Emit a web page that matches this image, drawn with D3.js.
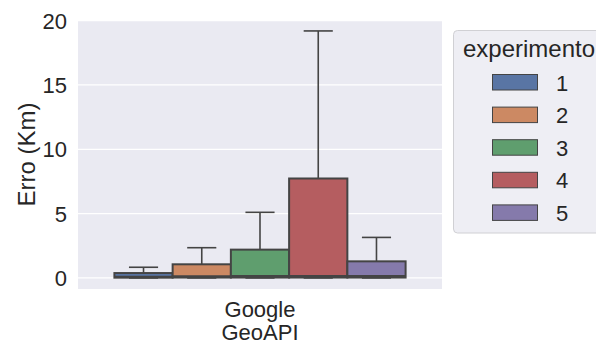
<!DOCTYPE html>
<html><head><meta charset="utf-8">
<script src="https://cdn.jsdelivr.net/npm/d3@7"></script>
<style>body{margin:0;background:#fff}svg{display:block}text{font-family:"Liberation Sans",Arial,sans-serif;fill:#262626}</style>
</head><body>
<svg id="c" width="596" height="345"></svg>
<script>
const categories = ["Google\nGeoAPI"];
const experiments = ["1","2","3","4","5"];
const colors = ["#5975a4","#cc8963","#5f9e6e","#b55d60","#857aab"];
const whiskerLow = [0, 0, 0, 0, 0];
const q1 = [0.02, 0.03, 0.03, 0.03, 0.03];
const median = [0.1, 0.13, 0.15, 0.15, 0.15];
const q3 = [0.38, 1.06, 2.2, 7.73, 1.29];
const whiskerHigh = [0.83, 2.35, 5.1, 19.2, 3.15];
const yTicks = [0, 5, 10, 15, 20];

const svg = d3.select("#c");
const L = 78, R = 442, T = 20, B = 289;
const x = d3.scaleBand().domain(categories).range([L, R]);
const y = d3.scaleLinear().domain([-0.86, 20.05]).range([B, T]);
const hue = d3.scaleBand().domain(experiments).range([x(categories[0]) + x.bandwidth()*0.1, x(categories[0]) + x.bandwidth()*0.9]);

svg.append("rect").attr("x", L).attr("y", T).attr("width", R-L).attr("height", B-T).attr("fill", "#eaeaf2");
svg.append("g").selectAll("line").data(yTicks).join("line")
  .attr("x1", L).attr("x2", R).attr("y1", d=>y(d)).attr("y2", d=>y(d))
  .attr("stroke", "#fff").attr("stroke-width", 1.2);

const yAxis = svg.append("g").attr("transform", `translate(${L},0)`)
  .call(d3.axisLeft(y).tickValues(yTicks).tickSize(0).tickPadding(11));
yAxis.select(".domain").remove();
yAxis.selectAll("text").attr("font-size", 22).attr("fill", "#262626").attr("font-family", "Liberation Sans, Arial").attr("dy", "0.34em");

const lc = "#444444";
const g = svg.append("g");
experiments.forEach((e, i) => {
  const bx = hue(e), bw = hue.bandwidth(), cx = bx + bw/2;
  g.append("line").attr("x1", cx).attr("x2", cx).attr("y1", y(q3[i])).attr("y2", y(whiskerHigh[i])).attr("stroke", lc).attr("stroke-width", 1.6);
  g.append("line").attr("x1", cx - bw/4).attr("x2", cx + bw/4).attr("y1", y(whiskerHigh[i])).attr("y2", y(whiskerHigh[i])).attr("stroke", lc).attr("stroke-width", 1.6);
  g.append("line").attr("x1", cx).attr("x2", cx).attr("y1", y(q1[i])).attr("y2", y(whiskerLow[i])).attr("stroke", lc).attr("stroke-width", 1.6);
  g.append("line").attr("x1", cx - bw/4).attr("x2", cx + bw/4).attr("y1", y(whiskerLow[i])).attr("y2", y(whiskerLow[i])).attr("stroke", lc).attr("stroke-width", 1.6);
  g.append("rect").attr("x", bx).attr("width", bw).attr("y", y(q3[i])).attr("height", y(q1[i]) - y(q3[i]))
    .attr("fill", colors[i]).attr("stroke", lc).attr("stroke-width", 2);
  g.append("line").attr("x1", bx).attr("x2", bx + bw).attr("y1", y(median[i])).attr("y2", y(median[i])).attr("stroke", lc).attr("stroke-width", 2);
});

const lines = categories[0].split("\n");
svg.append("text").attr("x", x(categories[0]) + x.bandwidth()/2).attr("y", 317).attr("text-anchor", "middle").attr("font-size", 22).text(lines[0]);
svg.append("text").attr("x", x(categories[0]) + x.bandwidth()/2).attr("y", 340).attr("text-anchor", "middle").attr("font-size", 22).text(lines[1]);

svg.append("text").attr("transform", `translate(35,${(T+B)/2}) rotate(-90)`).attr("text-anchor", "middle").attr("font-size", 24).text("Erro (Km)");

// legend
const lg = svg.append("g");
lg.append("rect").attr("x", 453.5).attr("y", 30.5).attr("width", 160).attr("height", 202.5).attr("rx", 4)
  .attr("fill", "#eeeef4").attr("stroke", "#d0d0d4").attr("stroke-width", 1);
lg.append("text").attr("x", 463).attr("y", 57).attr("font-size", 24).text("experimento");
experiments.forEach((e, i) => {
  const yy = 74.5 + i*32.6;
  lg.append("rect").attr("x", 492.5).attr("y", yy).attr("width", 45).attr("height", 15.5).attr("fill", colors[i]).attr("stroke", lc).attr("stroke-width", 1);
  lg.append("text").attr("x", 556).attr("y", yy + 16).attr("font-size", 22).text(e);
});
</script>
</body></html>
